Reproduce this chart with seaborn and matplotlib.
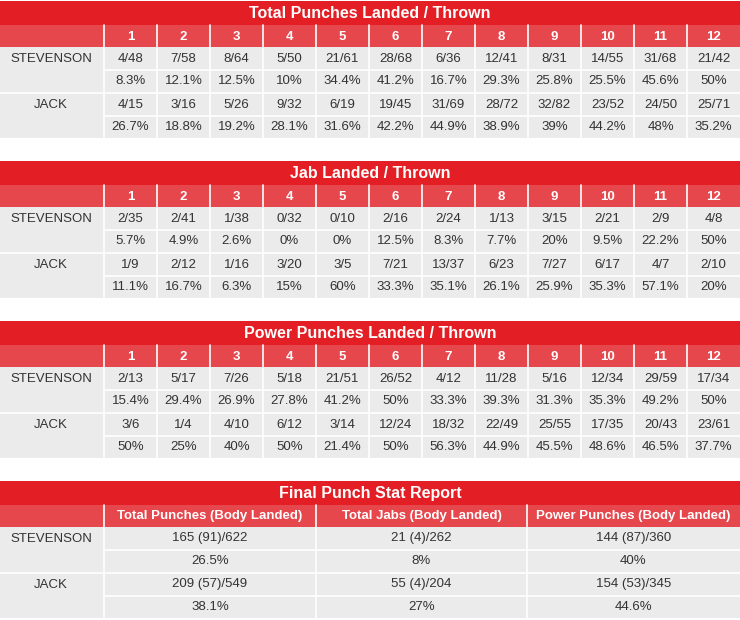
import matplotlib
matplotlib.use('Agg')
import matplotlib.pyplot as plt
from matplotlib.patches import Rectangle
import seaborn as sns

sns.set_theme(style='white', font='Liberation Sans')

fighters = ['STEVENSON', 'JACK']
rounds = [str(r) for r in range(1, 13)]

total_titles = 'Total Punches Landed / Thrown'
total_stev = ['4/48', '7/58', '8/64', '5/50', '21/61', '28/68', '6/36', '12/41', '8/31', '14/55', '31/68', '21/42']
total_stev_pct = ['8.3%', '12.1%', '12.5%', '10%', '34.4%', '41.2%', '16.7%', '29.3%', '25.8%', '25.5%', '45.6%', '50%']
total_jack = ['4/15', '3/16', '5/26', '9/32', '6/19', '19/45', '31/69', '28/72', '32/82', '23/52', '24/50', '25/71']
total_jack_pct = ['26.7%', '18.8%', '19.2%', '28.1%', '31.6%', '42.2%', '44.9%', '38.9%', '39%', '44.2%', '48%', '35.2%']

jab_stev = ['2/35', '2/41', '1/38', '0/32', '0/10', '2/16', '2/24', '1/13', '3/15', '2/21', '2/9', '4/8']
jab_stev_pct = ['5.7%', '4.9%', '2.6%', '0%', '0%', '12.5%', '8.3%', '7.7%', '20%', '9.5%', '22.2%', '50%']
jab_jack = ['1/9', '2/12', '1/16', '3/20', '3/5', '7/21', '13/37', '6/23', '7/27', '6/17', '4/7', '2/10']
jab_jack_pct = ['11.1%', '16.7%', '6.3%', '15%', '60%', '33.3%', '35.1%', '26.1%', '25.9%', '35.3%', '57.1%', '20%']

power_stev = ['2/13', '5/17', '7/26', '5/18', '21/51', '26/52', '4/12', '11/28', '5/16', '12/34', '29/59', '17/34']
power_stev_pct = ['15.4%', '29.4%', '26.9%', '27.8%', '41.2%', '50%', '33.3%', '39.3%', '31.3%', '35.3%', '49.2%', '50%']
power_jack = ['3/6', '1/4', '4/10', '6/12', '3/14', '12/24', '18/32', '22/49', '25/55', '17/35', '20/43', '23/61']
power_jack_pct = ['50%', '25%', '40%', '50%', '21.4%', '50%', '56.3%', '44.9%', '45.5%', '48.6%', '46.5%', '37.7%']

final_cols = ['Total Punches (Body Landed)', 'Total Jabs (Body Landed)', 'Power Punches (Body Landed)']
final_stev = ['165 (91)/622', '21 (4)/262', '144 (87)/360']
final_stev_pct = ['26.5%', '8%', '40%']
final_jack = ['209 (57)/549', '55 (4)/204', '154 (53)/345']
final_jack_pct = ['38.1%', '27%', '44.6%']

TITLE_RED = '#e31e24'
HEAD_RED = '#e5474d'
GRAY = '#ebebeb'
W = 740

fig = plt.figure(figsize=(7.4, 6.2), dpi=100)
ax = fig.add_axes([0, 0, 1, 1])
ax.set_xlim(0, W)
ax.set_ylim(620, 0)
ax.axis('off')


def table(y0, title, headers, rows, col_edges):
    ax.add_patch(Rectangle((0, y0), W, 24, color=TITLE_RED, lw=0))
    ax.text(W / 2, y0 + 12.5, title, ha='center', va='center', color='white',
            fontsize=11.5, fontweight='bold')
    y = y0 + 24
    hh = 22
    ax.add_patch(Rectangle((0, y), W, hh, color=HEAD_RED, lw=0))
    for i, h in enumerate(headers):
        ax.text((col_edges[i] + col_edges[i + 1]) / 2, y + hh / 2 + 0.5, h,
                ha='center', va='center', color='white', fontsize=9.5, fontweight='bold')
    y += hh
    rh = 23
    ax.add_patch(Rectangle((0, y), W, rh * 4 - 1, color=GRAY, lw=0))
    for k, (label, vals) in enumerate(rows):
        yy = y + k * rh
        if label:
            ax.text(51, yy + rh / 2, label, ha='center', va='center', color='#333333', fontsize=9.5)
        for i, v in enumerate(vals):
            ax.text((col_edges[i] + col_edges[i + 1]) / 2, yy + rh / 2, v,
                    ha='center', va='center', color='#333333', fontsize=9.5)
        if k in (0, 2):
            ax.plot([col_edges[0], W], [yy + rh, yy + rh], color='white', lw=1.2)
        elif k == 1:
            ax.plot([0, W], [yy + rh, yy + rh], color='white', lw=1.2)
    for xe in col_edges[:-1]:
        ax.plot([xe, xe], [y0 + 24, y + rh * 4 - 1], color='white', lw=1.2)


round_edges = [104 + i * (W - 104) / 12 for i in range(13)]
final_edges = [104, 316, 527, W]

table(1, total_titles, rounds,
      [(fighters[0], total_stev), ('', total_stev_pct), (fighters[1], total_jack), ('', total_jack_pct)],
      round_edges)
table(161, 'Jab Landed / Thrown', rounds,
      [(fighters[0], jab_stev), ('', jab_stev_pct), (fighters[1], jab_jack), ('', jab_jack_pct)],
      round_edges)
table(321, 'Power Punches Landed / Thrown', rounds,
      [(fighters[0], power_stev), ('', power_stev_pct), (fighters[1], power_jack), ('', power_jack_pct)],
      round_edges)
table(481, 'Final Punch Stat Report', final_cols,
      [(fighters[0], final_stev), ('', final_stev_pct), (fighters[1], final_jack), ('', final_jack_pct)],
      final_edges)

fig.savefig('out.png', dpi=100)
